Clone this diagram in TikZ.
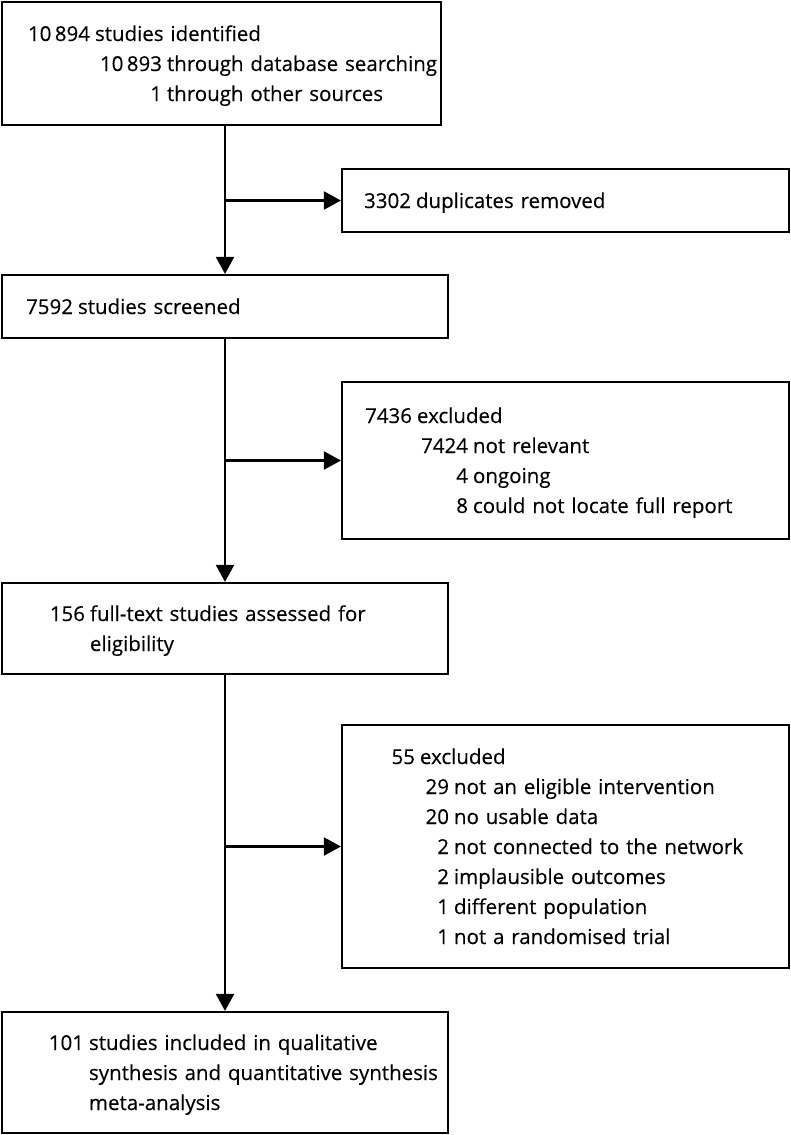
\documentclass[tikz,border=0pt]{standalone}
\usepackage{fontspec}
\setmainfont{Open Sans}[FakeBold=0.3]
\usetikzlibrary{arrows.meta}
\newcommand{\fline}[3]{\rule[-5pt]{0pt}{25pt}\makebox[#1pt][r]{#2}\hspace{5pt}#3}
\begin{document}
\begin{tikzpicture}
		[x=1pt, y=-1pt,
		box/.style={draw, line width=2.2pt, inner xsep=0pt, inner ysep=0pt,
			align=left, font=\fontsize{20.5}{30}\selectfont},
		flow/.style={line width=2.2pt, -{Triangle[length=17pt, width=18pt]}}
		]
		\useasboundingbox (0,0) rectangle (791,1135);
		\node[box, minimum width=439pt, text width=439pt, minimum height=123pt] (ident) at (221.5,63.5)
			{\fline{88}{10\,894}{studies identified}\\
			 \fline{160}{10\,893}{through database searching}\\
			 \fline{160}{1}{through other sources}};
		\node[box, minimum width=447pt, text width=447pt, minimum height=63pt] (dup) at (565.5,200.5)
			{\fline{69}{3302}{duplicates removed}};
		\node[box, minimum width=446pt, text width=446pt, minimum height=63pt] (screen) at (225,306.5)
			{\fline{71}{7592}{studies screened}};
		\node[box, minimum width=447pt, text width=447pt, minimum height=157pt] (exclA) at (565.5,460.5)
			{\fline{70}{7436}{excluded}\\
			 \fline{126}{7424}{not relevant}\\
			 \fline{126}{4}{ongoing}\\
			 \fline{126}{8}{could not locate full report}};
		\node[box, minimum width=446pt, text width=446pt, minimum height=91pt] (full) at (225,628.5)
			{\fline{83}{156}{full-text studies assessed for}\\
			 \fline{83}{}{eligibility}};
		\node[box, minimum width=447pt, text width=447pt, minimum height=243pt] (exclB) at (565.5,846.5)
			{\fline{73}{55}{excluded}\\
			 \fline{107}{29}{not an eligible intervention}\\
			 \fline{107}{20}{no usable data}\\
			 \fline{107}{2}{not connected to the network}\\
			 \fline{107}{2}{implausible outcomes}\\
			 \fline{107}{1}{different population}\\
			 \fline{107}{1}{not a randomised trial}};
		\node[box, minimum width=446pt, text width=446pt, minimum height=121pt] (incl) at (225,1072.5)
			{\fline{82}{101}{studies included in qualitative}\\
			 \fline{82}{}{synthesis and quantitative synthesis}\\
			 \fline{82}{}{meta-analysis}};
		\coordinate (j1) at (screen.north |- dup.west);
		\coordinate (j2) at (screen.south |- exclA.west);
		\coordinate (j3) at (full.south |- exclB.west);
		\draw[flow] (ident.south -| screen.north) -- (screen.north);
		\draw[flow] (screen.south) -- (full.north);
		\draw[flow] (full.south) -- (incl.north);
		\draw[flow] (j1) -- (dup.west);
		\draw[flow] (j2) -- (exclA.west);
		\draw[flow] (j3) -- (exclB.west);
	\end{tikzpicture}
\end{document}
